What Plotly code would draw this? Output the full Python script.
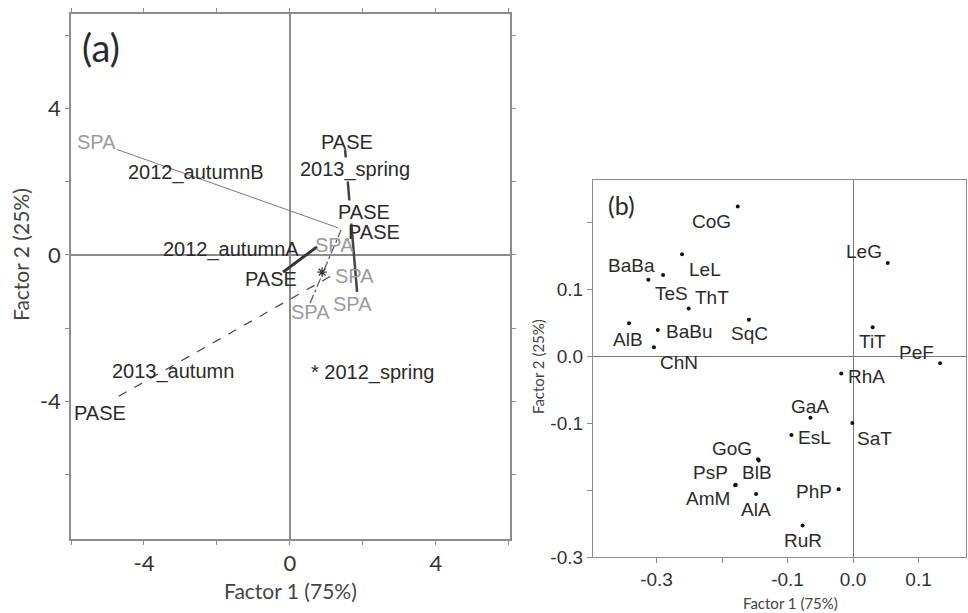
import plotly.graph_objects as go

# ---------- panel (a): season scores, SPA vs PASE ----------
SEASONS = ['2012_spring', '2012_autumnA', '2012_autumnB', '2013_spring', '2013_autumn']
SPA_X = [0.55, 0.74, -4.74, 1.84, 1.10]
SPA_Y = [-1.32, 0.22, 2.88, -1.01, -0.59]
PASE_X = [1.40, -0.19, 1.32, 1.51, -4.885]
PASE_Y = [0.68, -0.47, 0.74, 2.88, -3.97]
MARK_X = [0.88]          # asterisk on the 2012_spring link
MARK_Y = [-0.47]

# ---------- panel (b): species scores ----------
SPECIES = ['CoG', 'LeL', 'BaBa', 'TeS', 'ThT', 'AlB', 'BaBu', 'ChN', 'SqC',
           'LeG', 'TiT', 'PeF', 'RhA', 'GaA', 'EsL', 'SaT', 'PhP', 'RuR',
           'GoG', 'BlB', 'PsP', 'AmM', 'AlA']
SP_X = [-0.176, -0.261, -0.3125, -0.290, -0.251, -0.342, -0.298, -0.304, -0.159,
        0.053, 0.030, 0.133, -0.018, -0.065, -0.094, -0.001, -0.022, -0.077,
        -0.145, -0.144, -0.179, -0.180, -0.148]
SP_Y = [0.223, 0.152, 0.114, 0.121, 0.071, 0.049, 0.039, 0.013, 0.054,
        0.139, 0.043, -0.011, -0.026, -0.092, -0.118, -0.100, -0.199, -0.253,
        -0.154, -0.156, -0.192, -0.193, -0.206]

A_TICKS = [-6, -4, -2, 0, 2, 4, 6]
A_TICKTEXT = ['', '-4', '', '0', '', '4', '']
B_XTICKS = [-0.3, -0.2, -0.1, 0.0, 0.1]
B_XTICKTEXT = ['-0.3', '', '-0.1', '0.0', '0.1']
B_YTICKS = [-0.3, -0.2, -0.1, 0.0, 0.1, 0.2]
B_YTICKTEXT = ['-0.3', '', '-0.1', '0.0', '0.1', '']

C_AXIS = '#8c8c8c'
C_TEXT = '#2b2b2b'
C_SPA = '#9b9b9b'
F_ARIAL = 'Liberation Sans, Arial, sans-serif'
F_CAL = 'Lato, Open Sans, sans-serif'

W, H = 968, 613

LINE_STYLE = {
    '2012_spring':  dict(color='#555555', width=1.2, dash='dashdot'),
    '2012_autumnA': dict(color='#333333', width=3),
    '2012_autumnB': dict(color='#7a7a7a', width=1),
    '2013_spring':  dict(color='#444444', width=2.5),
    '2013_autumn':  dict(color='#444444', width=1.2, dash='dash'),
}
# label offsets (px) relative to the points
SPA_SHIFT = [(0, -9), (18, 2), (-20, 7), (-5, -12), (24, 1)]
PASE_SHIFT = [(33, -2), (-12, -7), (26, 16), (2, 7), (-12, -13)]
SEASON_POS = {
    '2012_spring':  (2.27, -3.20, '* 2012_spring'),
    '2012_autumnA': (-1.62, 0.14, '2012_autumnA'),
    '2012_autumnB': (-2.58, 2.25, '2012_autumnB'),
    '2013_spring':  (1.78, 2.33, '2013_spring'),
    '2013_autumn':  (-3.20, -3.18, '2013_autumn'),
}
SP_SHIFT = {
    'CoG': (-26, -15), 'LeL': (23, -15), 'BaBa': (-17, 14), 'TeS': (8, -19),
    'ThT': (23, 11), 'AlB': (-1, -16), 'BaBu': (31, -2), 'ChN': (25, -15),
    'SqC': (1, -14), 'LeG': (-24, 11), 'TiT': (0, -14), 'PeF': (-24, 11),
    'RhA': (25, -3), 'GaA': (0, 11), 'EsL': (23, -2), 'SaT': (22, -15),
    'PhP': (-25, -2), 'RuR': (0, -15), 'GoG': (-26, 11), 'BlB': (-2, -12),
    'PsP': (-25, 12), 'AmM': (-27, -13), 'AlA': (0, -15),
}

fig = go.Figure()

for i, s in enumerate(SEASONS):
    fig.add_trace(go.Scatter(
        x=[SPA_X[i], PASE_X[i]], y=[SPA_Y[i], PASE_Y[i]],
        mode='lines', line=LINE_STYLE[s], showlegend=False, hoverinfo='skip',
        xaxis='x', yaxis='y',
    ))

fig.add_trace(go.Scatter(
    x=MARK_X, y=MARK_Y, mode='markers',
    marker=dict(symbol='asterisk-open', size=8, color='#333',
                line=dict(color='#333', width=1.2)),
    showlegend=False, hoverinfo='skip', xaxis='x', yaxis='y',
))

fig.add_trace(go.Scatter(
    x=SP_X, y=SP_Y, mode='markers',
    marker=dict(color='#111', size=4),
    text=SPECIES, hovertemplate='%{text}<extra></extra>',
    showlegend=False, xaxis='x2', yaxis='y2',
))


def label(**kw):
    kw.setdefault('showarrow', False)
    kw.setdefault('xanchor', 'center')
    kw.setdefault('yanchor', 'middle')
    return kw


ann = []
for i, s in enumerate(SEASONS):
    ann.append(label(x=SPA_X[i], y=SPA_Y[i], xref='x', yref='y', text='SPA',
                     xshift=SPA_SHIFT[i][0], yshift=SPA_SHIFT[i][1],
                     font=dict(family=F_ARIAL, size=20, color=C_SPA)))
    ann.append(label(x=PASE_X[i], y=PASE_Y[i], xref='x', yref='y', text='PASE',
                     xshift=PASE_SHIFT[i][0], yshift=PASE_SHIFT[i][1],
                     font=dict(family=F_ARIAL, size=20, color=C_TEXT),
                     bgcolor='white' if s == '2012_autumnB' else None, borderpad=0))
    sx, sy, stext = SEASON_POS[s]
    ann.append(label(x=sx, y=sy, xref='x', yref='y', text=stext,
                     font=dict(family=F_ARIAL, size=20, color=C_TEXT),
                     bgcolor='white' if s == '2013_spring' else None, borderpad=0))

for name, x, y in zip(SPECIES, SP_X, SP_Y):
    dx, dy = SP_SHIFT[name]
    ann.append(label(x=x, y=y, xref='x2', yref='y2', text=name, xshift=dx, yshift=dy,
                     font=dict(family=F_ARIAL, size=19, color=C_TEXT)))

# panel letters and axis titles
ann += [
    label(x=101 / W, y=1 - 47 / H, xref='paper', yref='paper', text='(a)',
          font=dict(family=F_CAL, size=38, color=C_TEXT)),
    label(x=621 / W, y=1 - 205 / H, xref='paper', yref='paper', text='(b)',
          font=dict(family=F_CAL, size=25, color=C_TEXT)),
    label(x=290 / W, y=1 - 590 / H, xref='paper', yref='paper', text='Factor 1 (75%)',
          font=dict(family=F_CAL, size=21, color='#444')),
    label(x=20 / W, y=1 - 255 / H, xref='paper', yref='paper', text='Factor 2 (25%)',
          textangle=-90, font=dict(family=F_CAL, size=21, color='#444')),
    label(x=790 / W, y=1 - 603 / H, xref='paper', yref='paper', text='Factor 1 (75%)',
          font=dict(family=F_CAL, size=15, color='#444')),
    label(x=538 / W, y=1 - 367 / H, xref='paper', yref='paper', text='Factor 2 (25%)',
          textangle=-90, font=dict(family=F_CAL, size=15, color='#444')),
]

axis_a = dict(showgrid=False, showline=True, linecolor=C_AXIS, linewidth=1.5,
              mirror='allticks', ticks='outside', ticklen=4, tickcolor=C_AXIS,
              tickvals=A_TICKS, ticktext=A_TICKTEXT, zeroline=True,
              zerolinecolor=C_AXIS, zerolinewidth=1.5, automargin=False,
              tickfont=dict(family=F_CAL, size=22, color='#333'))
axis_b = dict(showgrid=False, showline=True, linecolor=C_AXIS, linewidth=1.2,
              mirror=True, ticks='outside', ticklen=5, tickcolor=C_AXIS,
              zeroline=True, zerolinecolor='#777', zerolinewidth=1, automargin=False,
              tickfont=dict(family=F_ARIAL, size=19, color='#333'))

fig.update_layout(
    width=W, height=H,
    margin=dict(l=0, r=0, t=0, b=0),
    paper_bgcolor='white', plot_bgcolor='white',
    showlegend=False,
    xaxis=dict(axis_a, domain=[71 / W, 510 / W], range=[-6.0, 6.03], anchor='y'),
    yaxis=dict(axis_a, domain=[1 - 539 / H, 1 - 14 / H], range=[-7.76, 6.58], anchor='x'),
    xaxis2=dict(axis_b, domain=[593 / W, 966 / W], range=[-0.397, 0.1725], anchor='y2',
                tickvals=B_XTICKS, ticktext=B_XTICKTEXT),
    yaxis2=dict(axis_b, domain=[1 - 557 / H, 1 - 180 / H], range=[-0.3, 0.2627], anchor='x2',
                tickvals=B_YTICKS, ticktext=B_YTICKTEXT),
    annotations=ann,
)

# drop the default page margin so the figure sits at the window's top-left corner
fig.write_html("out.html", config=dict(displayModeBar=False),
               post_script="document.body.style.margin='0';")
